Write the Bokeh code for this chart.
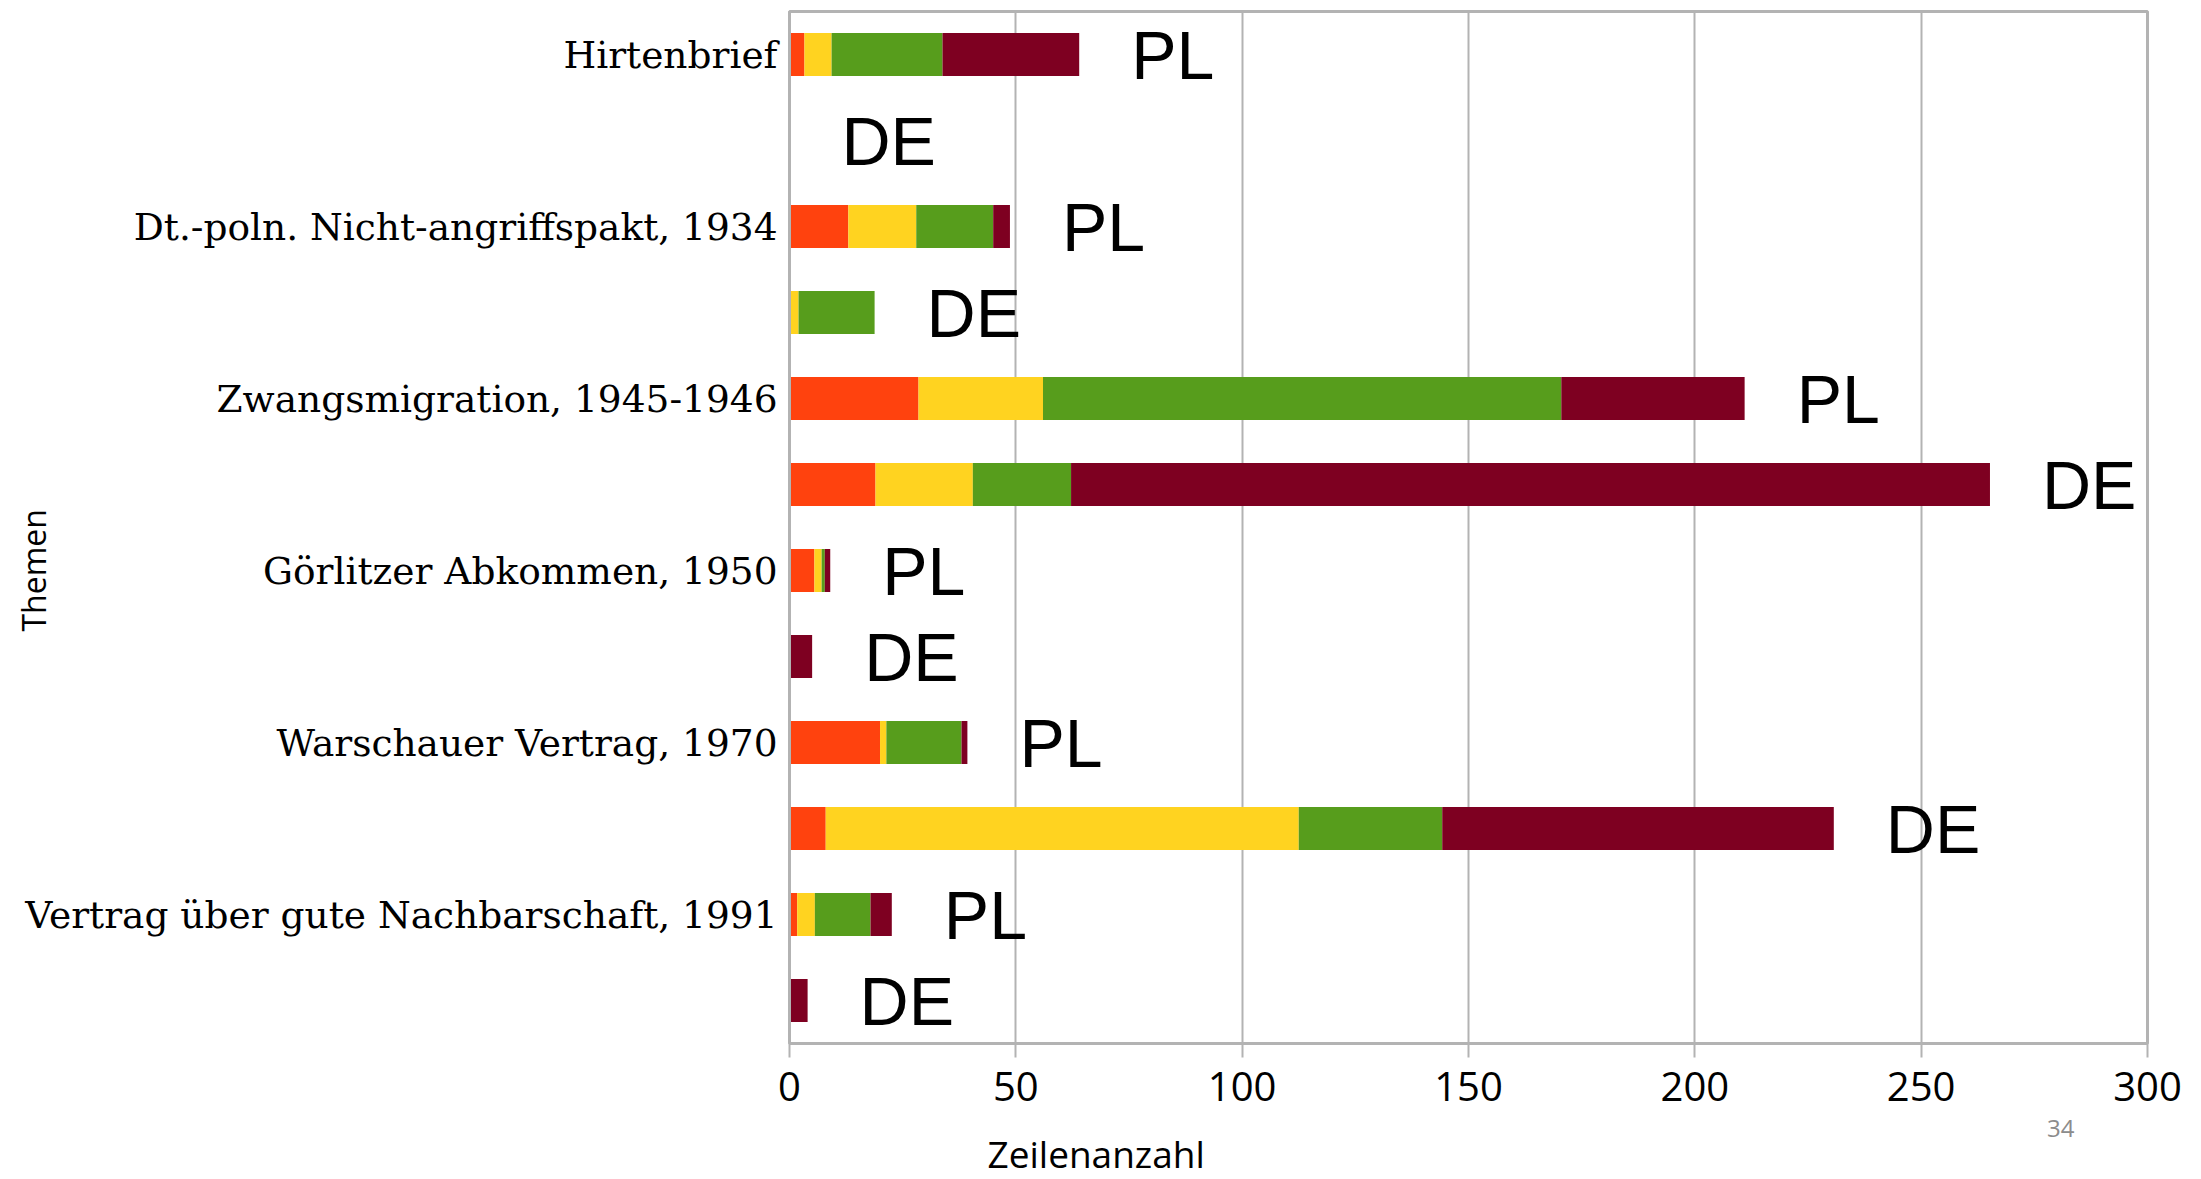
import math
from bokeh.plotting import figure
from bokeh.models import ColumnDataSource, Range1d, FixedTicker, Title
from bokeh.core.properties import value
from bokeh.embed import file_html
from bokeh.resources import INLINE

# ---- data ----
topics = [
    "Hirtenbrief",
    "Dt.-poln. Nicht-angriffspakt, 1934",
    "Zwangsmigration, 1945-1946",
    "Görlitzer Abkommen, 1950",
    "Warschauer Vertrag, 1970",
    "Vertrag über gute Nachbarschaft, 1991",
]
countries = ["PL", "DE"]
# one value per row, rows ordered: topic1 PL, topic1 DE, topic2 PL, ...
seg_orange = [3.3, 0, 13.0, 0, 28.5, 19.0, 5.5, 0, 20.0, 8.0, 1.7, 0]
seg_yellow = [6.0, 0, 15.0, 2.0, 27.5, 21.5, 1.6, 0, 1.4, 104.5, 3.9, 0]
seg_green = [24.5, 0, 17.0, 16.8, 114.5, 21.7, 0.7, 0, 16.6, 31.7, 12.3, 0]
seg_darkred = [30.2, 0, 3.7, 0, 40.5, 203.0, 1.2, 5.0, 1.3, 86.5, 4.7, 4.0]
x_ticks = [0, 50, 100, 150, 200, 250, 300]
x_title = "Zeilenanzahl"
y_title = "Themen"
page_number = "34"

colors = ["#ff420e", "#ffd320", "#579d1c", "#7e0021"]
stackers = ["s1", "s2", "s3", "s4"]

rows = list(range(len(topics) * len(countries)))
tags = [c for t in topics for c in countries]
totals = [a + b + c + d for a, b, c, d in zip(seg_orange, seg_yellow, seg_green, seg_darkred)]

source = ColumnDataSource(dict(
    y=rows, s1=seg_orange, s2=seg_yellow, s3=seg_green, s4=seg_darkred,
    total=totals, tag=tags,
))

n_rows = len(rows)
p = figure(
    width=2193, height=1178,
    x_range=Range1d(x_ticks[0], x_ticks[-1]),
    y_range=Range1d(n_rows - 0.5, -0.5),
    output_backend="svg", toolbar_location=None,
    min_border_left=789, min_border_right=46,
    min_border_top=11, min_border_bottom=135,
)
p.background_fill_color = "white"
p.border_fill_color = "white"

p.hbar_stack(stackers, y="y", height=0.5, color=colors, line_color=None, source=source)

p.text(x="total", y="y", text="tag", source=source, x_offset=52, y_offset=0,
       text_font=value("Liberation Sans"), text_font_size="68px",
       text_baseline="middle", text_align="left", text_color="black")

grey = "#b3b3b3"
p.outline_line_color = grey
p.outline_line_width = 3
p.xgrid.grid_line_color = grey
p.xgrid.grid_line_width = 2
p.ygrid.grid_line_color = None

p.xaxis.ticker = FixedTicker(ticks=x_ticks)
p.xaxis.axis_line_color = grey
p.xaxis.axis_line_width = 3
p.xaxis.major_tick_line_color = grey
p.xaxis.major_tick_line_width = 2
p.xaxis.major_tick_out = 14
p.xaxis.major_tick_in = 0
p.xaxis.minor_tick_line_color = None
p.xaxis.major_label_standoff = 14
p.xaxis.major_label_text_font = "Open Sans"
p.xaxis.major_label_text_font_size = "40px"
p.xaxis.major_label_text_color = "black"

label_rows = [i * len(countries) for i in range(len(topics))]
p.yaxis.ticker = FixedTicker(ticks=label_rows)
p.yaxis.major_label_overrides = {r: t for r, t in zip(label_rows, topics)}
p.yaxis.axis_line_color = grey
p.yaxis.axis_line_width = 3
p.yaxis.major_tick_line_color = None
p.yaxis.major_tick_out = 0
p.yaxis.major_tick_in = 0
p.yaxis.minor_tick_line_color = None
p.yaxis.major_label_standoff = 12
p.yaxis.major_label_text_font = "DejaVu Serif"
p.yaxis.major_label_text_font_size = "37.5px"
p.yaxis.major_label_text_color = "black"

# y title: a left-side title pulled into the label column
p.add_layout(Title(text=y_title, align="left", offset=412, standoff=-64,
                   text_font="Open Sans", text_font_size="32px",
                   text_font_style="normal", text_color="black"), "left")

# page number, right-aligned below the tick labels
p.add_layout(Title(text=page_number, align="right", offset=73, standoff=29,
                   text_font="Open Sans", text_font_size="24px",
                   text_font_style="normal", text_color="#8c8c8c"), "below")

# x title, left-aligned, overlapping upward into the page-number row
p.add_layout(Title(text=x_title, align="left", offset=198, standoff=-52,
                   text_font="Open Sans", text_font_size="37px",
                   text_font_style="normal", text_color="black"), "below")

open("out.html", "w").write(file_html(p, INLINE))
